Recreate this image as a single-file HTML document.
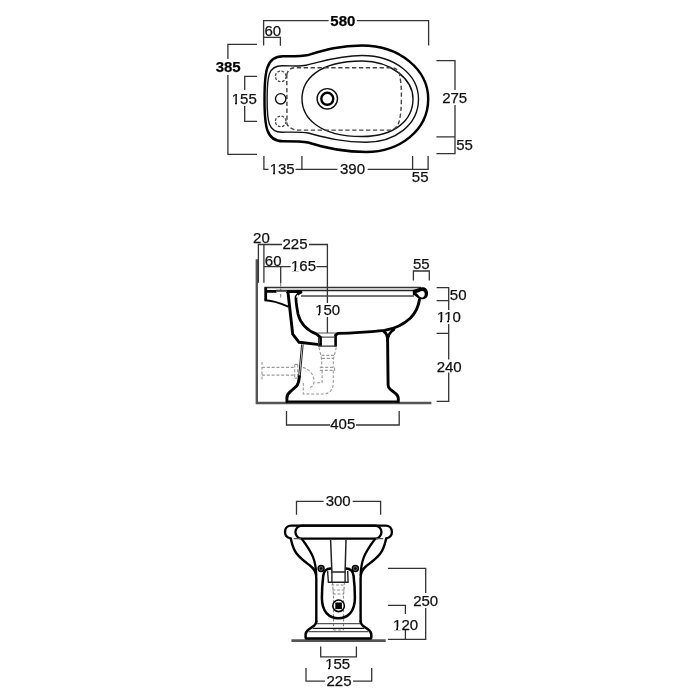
<!DOCTYPE html>
<html><head><meta charset="utf-8">
<style>
html,body{margin:0;padding:0;background:#fff;width:700px;height:700px;overflow:hidden}
svg{display:block;will-change:transform}
text{font-family:"Liberation Sans",sans-serif;font-size:15px;fill:#111;text-anchor:middle;stroke:#111;stroke-width:0.25}
.b{font-weight:bold;fill:#000}
.d{stroke:#333;stroke-width:1.3;fill:none}
.o{stroke:#000;stroke-width:2.45;fill:none;stroke-linejoin:round;stroke-linecap:round}
.t{stroke:#111;stroke-width:1.4;fill:none}
.g{stroke:#555;stroke-width:2.6;fill:none}
.h{stroke:#888;stroke-width:1;fill:none;stroke-dasharray:3.5 2}
.hw{fill:#fff}
</style></head>
<body>
<svg width="700" height="700" viewBox="0 0 700 700">
<rect width="700" height="700" fill="#fff"/>

<!-- ================= TOP VIEW ================= -->
<g id="top">
  <!-- dims -->
  <path class="d" d="M263.6,45.4 V20.7 H328.6 M356.9,20.7 H428.6 V45.4"/>
  <path class="d" d="M263.6,37.4 H280.4 V45.7"/>
  <path class="d" d="M257,44.3 H227.9 V59 M227.9,75 V154.3 H257"/>
  <path class="d" d="M257.1,76.4 H244.7 V90 M244.7,106 V121.4 H257.1"/>
  <path class="d" d="M436.4,60.7 H455 V90 M455,105 V153.6 H436.4 M436.4,136.9 H455"/>
  <path class="d" d="M263.9,156.1 V169.4 H268.5 M295.5,169.4 H337.4 M367.6,169.4 H412.6 V156 M412.6,169.4 H428.1 V156 M301.9,156.1 V169.4"/>
  <text class="b" x="342.85" y="25.70">580</text>
  <text x="272.85" y="35.70">60</text>
  <text class="b" x="228.20" y="71.55">385</text>
  <text x="244.30" y="103.95">155</text>
  <text x="454.65" y="102.75">275</text>
  <text x="464.50" y="149.65">55</text>
  <text x="282.15" y="173.80">135</text>
  <text x="352.55" y="173.55">390</text>
  <text x="420.15" y="181.75">55</text>

  <!-- object -->
  <path class="o" d="M264.5,99 C264.5,72 266,56.3 283,56.3 C296,56.3 302,56.5 308,55 C325,50 340,45.5 362,45.5 C400,45.5 428.2,70 428.2,99 C428.2,130 400,152 366,152 C340,152 322,147 308,142.5 C302,141.3 296,141.3 283,141.3 C266,141.3 264.5,126 264.5,99 Z"/>
  <path class="t" d="M267.1,99 C267.1,76 268.4,65.8 282,65.8 C295,65.8 300,66.5 306,65.2 C322,61.8 338,55.5 362,55.5 C395,55.5 418.5,75 418.5,99 C418.5,125 395,142.2 366,142.2 C340,142.2 322,136.5 308,133 C302,131.7 295,132 282,132.2 C268.4,132.2 267.1,122 267.1,99 Z"/>
  <path class="t" d="M302,98.7 C302,80 318,61 362,61 C392,61 413,80 413,98.7 C413,120 395,136.5 362,136.5 C318,136.5 302,117 302,98.7 Z"/>
  <path class="h" style="stroke:#444;stroke-width:1.4;stroke-dasharray:4.3 2.6" d="M286.8,75 Q287.7,68.5 294,67.7 H392 Q397.5,68 399.5,74 Q401.6,85 401.4,98 Q401.3,114 399,122 Q397,128.5 391,130.1 H297 Q291,129.5 287,124.5 Z"/>
  <circle cx="280.7" cy="76.4" r="5.3" class="h" style="stroke:#444;stroke-width:1.3;stroke-dasharray:2.6 1.6"/>
  <circle cx="280.7" cy="98.8" r="5.2" class="t"/>
  <circle cx="280.7" cy="121.4" r="5.3" class="h" style="stroke:#444;stroke-width:1.3;stroke-dasharray:2.6 1.6"/>
  <circle cx="327.3" cy="98.8" r="10.2" class="t"/>
  <circle cx="327.3" cy="98.8" r="6" stroke="#000" stroke-width="2.4" fill="none"/>
</g>

<!-- ================= SIDE VIEW ================= -->
<g id="side">
  <!-- wall & floor -->
  <path class="g" style="stroke-width:2.4;stroke:#555" d="M256.8,259.3 V403 H431.4"/>
  <!-- dims -->
  <path class="d" d="M258.4,282.8 V244.5 H282 M309,244.5 H327.4 V333"/>
  <path class="d" d="M263.9,282.8 V244.5"/>
  <path class="d" d="M263.9,266.6 H290.7 M316.4,266.6 H327.4"/>
  <path class="d" d="M280.7,266.6 V283"/>
  <path class="h" style="stroke:#777;stroke-width:1" d="M280.7,283 V299"/>
  <path class="d" d="M413.4,280.6 V271 H429.3 V280.6"/>
  <path class="d" d="M436.6,287.7 H448.7 V401.3 H436.6 M436.6,300.6 H448.7 M436.6,333.4 H448.7"/>
  <path class="d" d="M286.5,411 V425 H330 M356,425 H399.2 V411"/>
  <rect x="436" y="310" width="26" height="14" class="hw"/>
  <rect x="436" y="359.5" width="26" height="13" class="hw"/>
  <rect x="314" y="303" width="27" height="14" class="hw"/>
  <text x="261.45" y="242.65">20</text>
  <text x="295.00" y="249.45">225</text>
  <text x="273.20" y="265.90">60</text>
  <text x="303.55" y="270.70">165</text>
  <text x="421.30" y="268.90">55</text>
  <text x="458.20" y="300.00">50</text>
  <text x="327.65" y="315.00">150</text>
  <text x="448.95" y="322.10">110</text>
  <text x="449.15" y="372.15">240</text>
  <text x="342.80" y="429.35">405</text>

  <!-- hidden pipes -->
  <g class="h" style="stroke:#9a9a9a;stroke-width:1.1;stroke-dasharray:3 1.8">
    <path d="M262,367.4 H294.7 M262,375.1 H294.7 M262,362 V380.7 M294.7,364.4 V378.1 M297.7,364.4 V378.1 M294.7,364.4 H297.7 M294.7,378.1 H297.7"/>
    <path d="M319.1,347.3 L321.7,359.7 V367.4 M336.3,347.3 L333.3,359.7 V367.4 M321.5,355.4 H334 M322,358.4 H333.5"/>
    <path d="M320.4,367.4 H334.6 V370.4 H320.4 Z"/>
    <path d="M333.3,370.4 V383 C333.3,389 329.5,394 324.3,394 H303.3 V383"/>
    <path d="M322.1,370.4 V382.8 H314.9"/>
    <path d="M302.9,367.4 C309.5,369 314,375 314,381 C314,385 312,387.6 308.9,387.6"/>
  </g>

  <!-- rim lines -->
  <path stroke="#333" stroke-width="1.3" fill="none" d="M264.4,287.5 H421"/>
  <path stroke="#222" stroke-width="1.4" fill="none" d="M276,290.5 H414.5"/>
  <path stroke="#444" stroke-width="1.3" fill="none" d="M301,296 H414"/>
  <path stroke="#000" stroke-width="2.8" fill="none" d="M265.7,287.6 V300.4 M264.4,291.3 H276.5 M286.3,291.7 H301.3"/>
  <path stroke="#666" stroke-width="1.5" fill="none" d="M276,291.3 H287"/>
  <path stroke="#000" stroke-width="2" fill="none" d="M264.5,300.3 C272,300.4 279,302.6 288.3,306.6"/>
  <!-- rim roll -->
  <path fill="#000" d="M412.8,290.1 L418.5,288.3 C420.8,286.9 424.5,286.8 426.4,288.7 C428.5,290.8 428.6,295.6 426.7,297.6 C424.7,299.7 420.8,299.9 418.3,298.2 C416.3,296.9 414.9,295.4 412.8,294.8 Z"/>
  <path fill="#fff" d="M416.3,293.1 C418.5,292.5 420.5,290.8 422.3,290.9 C423.8,291 424.6,292 424.7,293.3 C424.9,295 424.4,296.6 423,297.3 C421.8,297.9 420.5,297.4 419.6,296.6 C418.6,295.8 417.8,294.2 416.3,293.1 Z"/>
  <!-- outer wall -->
  <path class="o" style="stroke-width:2.9" d="M288,292.5 L292.7,334.1 L299.1,342.3 L319.5,344.6"/>
  <!-- inner bowl -->
  <path class="o" style="stroke-width:2.8" d="M301,292.2 C299,293 297,294.5 296.2,296.5 C295.3,299 296.5,306 298,314 C300,322 306,330 316.7,334.1 L320.1,337.1"/>
  <ellipse cx="297.4" cy="296.3" rx="0.9" ry="1.7" transform="rotate(35 297.4 296.3)" fill="#fff"/>
  <!-- neck -->
  <path stroke="#555" stroke-width="1.1" fill="none" d="M317.6,333 H337.3 M321,337.1 H334.5"/>
  <path stroke="#000" stroke-width="2.6" fill="none" d="M320.6,336.5 V346.2 M335.6,334.5 V346.4"/>
  <path stroke="#333" stroke-width="1.3" fill="none" d="M318.6,337 V346.1 H336.5"/>
  <!-- bowl bottom to roll -->
  <path class="o" style="stroke-width:2.9" d="M335.8,335 L338.1,333.4 C355,333 370,331.8 384.4,330.4 C394,329 403,325 410.5,318 C415.5,313 418.5,306 419.5,299.5"/>
  <!-- pedestal right -->
  <path class="o" style="stroke-width:2.9" d="M383.6,331.2 C386.5,333 387.6,336 387.6,340 L388.1,385 C388.1,387 388.9,388 390.3,389.3 L394.5,392.6 C397.2,394.5 398.3,396 398.3,398.5 V401.8"/>
  <path class="o" style="stroke-width:2.6" d="M394,329.5 C390.5,331.5 387.8,335 387.6,341"/>
  <!-- pedestal left -->
  <path stroke="#222" stroke-width="1" fill="none" d="M301.6,344.4 L298.6,377 M303.2,344.4 L300.2,377"/>
  <path class="o" style="stroke-width:2.9" d="M299.4,376.8 C299,380 298.8,383 296.8,385.8 L290.5,391.5 C287.8,393.5 286.9,395.5 286.9,398 V401.8"/>
  <!-- base on floor -->
  <path stroke="#000" stroke-width="2.2" d="M286.9,401.7 H398.3"/>
</g>

<!-- ================= FRONT VIEW ================= -->
<g id="front">
  <path class="g" d="M291.4,640.6 H385.7"/>
  <path class="d" d="M296.5,514.8 V501.3 H323.6 M352.6,501.3 H380.6 V514.8"/>
  <path class="d" d="M387.9,568.3 H425.7 V639.3 H387.9 M387.9,605.4 H405.4 V639.3"/>
  <path class="d" d="M320.7,646.4 V656.9 H356.4 V646.4"/>
  <path class="d" d="M306,667.9 V681.1 H325 M353,681.1 H371.7 V667.9"/>
  <rect x="412" y="593" width="27" height="15" class="hw"/>
  <rect x="393" y="614" width="26" height="16" class="hw"/>
  <text x="338.15" y="506.00">300</text>
  <text x="425.70" y="605.55">250</text>
  <text x="405.60" y="629.65">120</text>
  <text x="337.65" y="668.95">155</text>
  <text x="339.00" y="685.85">225</text>

  <!-- hidden trap -->
  <g class="h" style="stroke:#888;stroke-width:1.1;stroke-dasharray:2.8 1.8">
    <path d="M332.5,582 L333.5,596 V630 M344.5,582 L343.5,596 V630 M331.5,585 H345.5 M332.5,590 H344.5 M333,594 H344 M333.5,630 H343.5"/>
  </g>
  <!-- rim -->
  <path class="o" style="stroke-width:2.3" d="M290.9,538.4 C286.8,537.5 285,534.5 285,531.9 C285,528.2 287.5,525.6 291.3,525.6 H385.6 C389.4,525.6 391.9,528.2 391.9,531.9 C391.9,534.5 390.1,537.5 386,538.4"/>
  <path class="o" style="stroke-width:2.3" d="M301.9,525.6 H375 A6.5,6.5 0 0 1 375,538.6 H301.9 A6.5,6.5 0 0 1 301.9,525.6 Z"/>
  <path stroke="#555" stroke-width="1.2" fill="none" d="M293.7,538.6 H302 M375,538.6 H383.2"/>
  <!-- bowl sides -->
  <path class="o" style="stroke-width:2.4" d="M290.9,539.2 C291.8,543 293,549 296.8,553.8 C300.5,558.8 306,562.5 310.5,566 C314.5,569 316.2,572 316.3,578 V621.5"/>
  <path class="o" style="stroke-width:2.4" d="M386,539.2 C385.1,543 383.9,549 380.1,553.8 C376.4,558.8 370.9,562.5 366.4,566 C362.4,569 360.7,572 360.6,578 V621.5"/>
  <path class="o" style="stroke-width:2.2" d="M301.9,539 C306,544.5 310.5,551 313,557 C315,562 316,568 316.3,575"/>
  <path class="o" style="stroke-width:2.2" d="M375,539 C370.9,544.5 366.4,551 363.9,557 C361.9,562 360.9,568 360.6,575"/>
  <!-- U opening -->
  <path class="o" style="stroke-width:2.5" d="M330.8,568.5 H346 C350.5,568.5 353,571 353.6,576 C354.3,582 354.9,590 354.9,598 C354.9,612 347.5,618.3 338.4,618.3 C329.3,618.3 321.9,612 321.9,598 C321.9,590 322.5,582 323.2,576 C323.8,571 326.3,568.5 330.8,568.5 Z"/>
  <!-- column -->
  <path fill="#fff" stroke="#222" stroke-width="1.5" d="M330.6,539.9 L331.9,572 H345.1 L346,539.9"/>
  <path fill="none" stroke="#222" stroke-width="1.4" d="M327.6,571.1 L328.4,582.3 H348.1 L347.7,571.1 M331.9,572 V582.3 M345.1,572 V582.3"/>
  <!-- screws -->
  <circle cx="321.1" cy="568.5" r="3" stroke="#000" stroke-width="1.4" fill="#666"/>
  <circle cx="321.1" cy="568.5" r="1.3" fill="#000"/>
  <circle cx="355.4" cy="568.5" r="3" stroke="#000" stroke-width="1.4" fill="#666"/>
  <circle cx="355.4" cy="568.5" r="1.3" fill="#000"/>
  <!-- drain -->
  <circle cx="338.6" cy="605.8" r="5.8" stroke="#000" stroke-width="1.6" fill="#fff"/>
  <rect x="335.3" y="602.5" width="6.6" height="6.6" fill="#000"/>
  <!-- plinth -->
  <path stroke="#555" stroke-width="1.2" fill="none" d="M316.6,623.6 H360.3 M308.6,631.7 H368.3"/>
  <path stroke="#111" stroke-width="1.4" fill="none" d="M312.6,628.4 H364.3"/>
  <path class="o" style="stroke-width:2.5" d="M316.3,621.5 C316.3,623.5 315.5,624.5 314,625.8 L309,629.3 C306.5,631 305.6,632.5 305.6,634.5 V637 C305.6,638 306,638.6 307,638.6 H369.9 C370.9,638.6 371.3,638 371.3,637 V634.5 C371.3,632.5 370.4,631 367.9,629.3 L362.9,625.8 C361.4,624.5 360.6,623.5 360.6,621.5"/>
</g>
<g id="feet" fill="#fff" shape-rendering="crispEdges"><rect x="231" y="102" width="4" height="3"/><rect x="237" y="102" width="3" height="3"/><rect x="269" y="172" width="4" height="3"/><rect x="275" y="172" width="3" height="3"/><rect x="291" y="268" width="3" height="3"/><rect x="296" y="268" width="4" height="3"/><rect x="315" y="313" width="3" height="3"/><rect x="320" y="313" width="4" height="3"/><rect x="437" y="320" width="3" height="3"/><rect x="442" y="320" width="4" height="3"/><rect x="444" y="320" width="3" height="3"/><rect x="449" y="320" width="4" height="3"/><rect x="393" y="627" width="3" height="3"/><rect x="398" y="627" width="4" height="3"/><rect x="325" y="667" width="3" height="3"/><rect x="330" y="667" width="4" height="3"/></g>
</svg>
</body></html>
